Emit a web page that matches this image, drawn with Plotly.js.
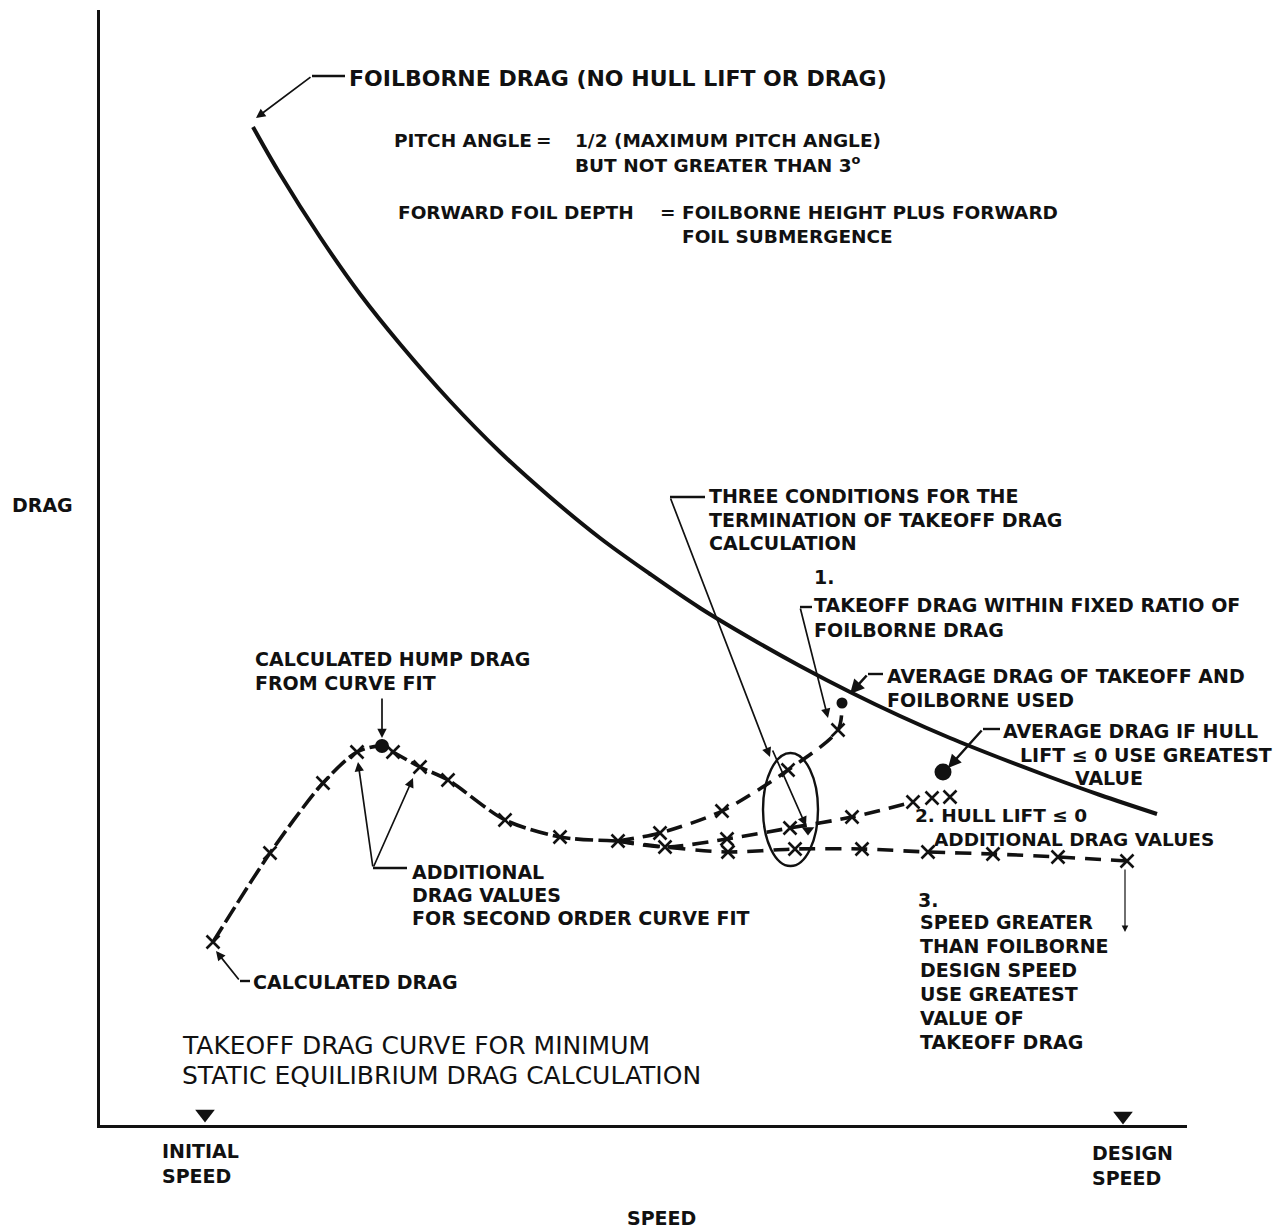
<!DOCTYPE html>
<html>
<head>
<meta charset="utf-8">
<script src="https://cdn.plot.ly/plotly-3.0.1.min.js"></script>
<style>body{margin:0;background:#fff}</style>
</head>
<body>
<div id="chart" style="width:1280px;height:1230px"></div>
<script>
// Foilborne drag (no hull lift or drag) against speed
const foilSpeed = [153, 180, 220, 260, 300, 350, 400, 450, 500, 550, 600, 650, 700, 750, 800, 850, 900, 950, 1000, 1057];
const foilDrag  = [998, 951, 888, 831, 781, 724, 673, 628, 587, 551, 517, 487, 459, 433, 409, 387, 367, 348, 330, 311];

// Calculated takeoff drag values up to the branch point
const takeoffSpeed = [113, 170, 223, 257, 293, 320, 348, 405, 460, 518];
const takeoffDrag  = [183, 272, 342, 373, 373, 358, 345, 305, 288, 284];

// Hump drag from the second-order curve fit
const humpSpeed = [282];
const humpDrag  = [379];

// Condition 1: takeoff drag rising toward foilborne drag
const riseSpeed = [560, 622, 688, 738];
const riseDrag  = [292, 314, 355, 395];
const avgFoilSpeed = [742];
const avgFoilDrag  = [422];

// Condition 2: hull lift <= 0
const hullSpeed = [627, 690, 752];
const hullDrag  = [286, 297, 308];
const hullExtraSpeed = [813, 832, 850];
const hullExtraDrag  = [323, 327, 328];
const avgHullSpeed = [843];
const avgHullDrag  = [353];
const stopSpeed = [708];
const stopDrag  = [295];

// Condition 3: speed beyond foilborne design speed
const designRunSpeed = [565, 628, 695, 762, 828, 893, 958, 1027];
const designRunDrag  = [278, 273, 276, 276, 273, 271, 268, 264];

// Reference speeds on the speed axis
const speedMarkNames = ['INITIAL SPEED', 'DESIGN SPEED'];
const speedMarkSpeed = [105, 1023];
const speedMarkDrag  = [11, 9];

const FONT = 'DejaVu Sans';
const INK = '#111';

// Build the smooth takeoff path: sampled values plus the fitted hump
const mainPts = takeoffSpeed.map((s, i) => [s, takeoffDrag[i]]).concat([[humpSpeed[0], humpDrag[0]]])
  .sort((a, b) => a[0] - b[0]);
const last = takeoffSpeed.length - 1;
const branchStart = [takeoffSpeed[last], takeoffDrag[last]];

const risePath   = [branchStart].concat(riseSpeed.map((s, i) => [s, riseDrag[i]]), [[avgFoilSpeed[0], avgFoilDrag[0]]]);
const hullPath   = [branchStart, [designRunSpeed[0], designRunDrag[0]]].concat(hullSpeed.map((s, i) => [s, hullDrag[i]]), [[hullExtraSpeed[0], hullExtraDrag[0]]]);
const designPath = [branchStart].concat(designRunSpeed.map((s, i) => [s, designRunDrag[i]]));

function pathTrace(pts, dash) {
  return {
    type: 'scatter', mode: 'lines',
    x: pts.map(p => p[0]), y: pts.map(p => p[1]),
    line: {color: INK, width: 3.6, dash: dash, shape: 'spline', smoothing: 0.8},
    hoverinfo: 'skip', showlegend: false
  };
}
function crossTrace(xs, ys) {
  return {
    type: 'scatter', mode: 'markers', x: xs, y: ys,
    marker: {symbol: 'x-thin', size: 13, color: INK, line: {color: INK, width: 2.6}},
    hoverinfo: 'skip', showlegend: false, cliponaxis: false
  };
}

const traces = [
  {
    type: 'scatter', mode: 'lines', x: foilSpeed, y: foilDrag,
    line: {color: INK, width: 4, shape: 'spline', smoothing: 1},
    hoverinfo: 'skip', showlegend: false
  },
  pathTrace(mainPts, '18px,5px'),
  pathTrace(risePath, '16px,9px'),
  pathTrace(hullPath, '16px,9px'),
  pathTrace(designPath, '16px,10px'),
  crossTrace(takeoffSpeed, takeoffDrag),
  crossTrace(riseSpeed, riseDrag),
  crossTrace(hullSpeed, hullDrag),
  crossTrace(hullExtraSpeed, hullExtraDrag),
  crossTrace(designRunSpeed, designRunDrag),
  {
    type: 'scatter', mode: 'markers', x: humpSpeed, y: humpDrag,
    marker: {symbol: 'circle', size: 14, color: INK}, hoverinfo: 'skip', showlegend: false
  },
  {
    type: 'scatter', mode: 'markers', x: avgFoilSpeed, y: avgFoilDrag,
    marker: {symbol: 'circle', size: 11, color: INK}, hoverinfo: 'skip', showlegend: false
  },
  {
    type: 'scatter', mode: 'markers', x: avgHullSpeed, y: avgHullDrag,
    marker: {symbol: 'circle', size: 17, color: INK}, hoverinfo: 'skip', showlegend: false
  },
  {
    type: 'scatter', mode: 'markers', x: stopSpeed, y: stopDrag,
    marker: {symbol: 'triangle-down', size: 11, color: INK}, hoverinfo: 'skip', showlegend: false
  },
  {
    type: 'scatter', mode: 'markers', x: speedMarkSpeed, y: speedMarkDrag,
    marker: {symbol: 'triangle-down', size: 17, color: INK}, hoverinfo: 'skip', showlegend: false,
    cliponaxis: false
  }
];

// Labels are placed relative to the plotting area
const L = 100, T = 10, W = 1087, H = 1115;
function label(text, px, py, opts) {
  return Object.assign({
    xref: 'paper', yref: 'paper', x: (px - L) / W, y: (T + H - py) / H,
    text: text, showarrow: false, xanchor: 'left', yanchor: 'middle', align: 'left',
    font: {family: FONT, size: 19, color: INK, weight: 'bold'}
  }, opts || {});
}
const f = (size, weight) => ({font: {family: FONT, size: size, color: INK, weight: weight || 'bold'}});
const small = f(18.5);
const light = f(25, 'normal');

const texts = [
  label('FOILBORNE DRAG (NO HULL LIFT OR DRAG)', 347, 78, f(22)),
  label('PITCH ANGLE', 392, 140, small),
  label('=', 534, 140, small),
  label('1/2 (MAXIMUM PITCH ANGLE)', 573, 140, small),
  label('BUT NOT GREATER THAN 3<sup>o</sup>', 573, 164, small),
  label('FORWARD FOIL DEPTH', 396, 212, small),
  label('=', 658, 212, small),
  label('FOILBORNE HEIGHT PLUS FORWARD', 680, 212, small),
  label('FOIL SUBMERGENCE', 680, 236, small),
  label('DRAG', 10, 505),
  label('THREE CONDITIONS FOR THE', 707, 496),
  label('TERMINATION OF TAKEOFF DRAG', 707, 520),
  label('CALCULATION', 707, 543),
  label('1.', 812, 577),
  label('TAKEOFF DRAG WITHIN FIXED RATIO OF', 812, 605),
  label('FOILBORNE DRAG', 812, 630),
  label('AVERAGE DRAG OF TAKEOFF AND', 885, 676),
  label('FOILBORNE USED', 885, 700),
  label('AVERAGE DRAG IF HULL', 1001, 731),
  label('LIFT ≤ 0 USE GREATEST', 1018, 755),
  label('VALUE', 1073, 778),
  label('CALCULATED HUMP DRAG', 253, 659),
  label('FROM CURVE FIT', 253, 683),
  label('2. HULL LIFT ≤ 0', 913, 815, f(18.5)),
  label('ADDITIONAL DRAG VALUES', 932, 839, f(18.5)),
  label('ADDITIONAL', 410, 872),
  label('DRAG VALUES', 410, 895),
  label('FOR SECOND ORDER CURVE FIT', 410, 918),
  label('3.', 916, 900),
  label('SPEED GREATER', 918, 922),
  label('THAN FOILBORNE', 918, 946),
  label('DESIGN SPEED', 918, 970),
  label('USE GREATEST', 918, 994),
  label('VALUE OF', 918, 1018),
  label('TAKEOFF DRAG', 918, 1042),
  label('CALCULATED DRAG', 251, 982),
  label('TAKEOFF DRAG CURVE FOR MINIMUM', 180, 1045, light),
  label('STATIC EQUILIBRIUM DRAG CALCULATION', 180, 1075, light),
  label(speedMarkNames[0].split(' ').join('<br>'), 160, 1163),
  label(speedMarkNames[1].split(' ').join('<br>'), 1090, 1165),
  label('SPEED', 661, 1218, {xanchor: 'center'})
];

// Leader arrows: tip (x, y) and tail (ax, ay) in speed/drag units
function arrow(x, y, ax, ay, opts) {
  return Object.assign({
    x: x, y: y, ax: ax, ay: ay, xref: 'x', yref: 'y', axref: 'x', ayref: 'y',
    text: '', showarrow: true, arrowhead: 2, arrowsize: 1.1, arrowwidth: 1.7, arrowcolor: INK,
    standoff: 0, startstandoff: 0
  }, opts || {});
}
const arrows = [
  arrow(156, 1007, 212, 1049),
  arrow(282, 387, 282, 428),
  arrow(258, 363, 273, 257),
  arrow(313, 347, 273, 257),
  arrow(116, 174, 140, 144),
  arrow(670, 368, 570, 628),
  arrow(706, 299, 672, 376),
  arrow(728, 407, 700, 518),
  arrow(750, 431, 768, 451, {arrowwidth: 2.6}),
  arrow(848, 357, 883, 396, {arrowwidth: 2.4}),
  arrow(1025, 193, 1025, 257, {arrowwidth: 1.2})
];

// Short horizontal hooks at the start of each leader
function hook(x0, x1, y) {
  return {type: 'line', xref: 'x', yref: 'y', x0: x0, x1: x1, y0: y, y1: y, line: {color: INK, width: 2.4}};
}
const shapes = [
  hook(245, 212, 1049),
  hook(307, 273, 257),
  hook(150, 140, 144),
  hook(605, 570, 628),
  hook(712, 700, 518),
  hook(783, 768, 451),
  hook(900, 883, 396),
  // Termination region enclosing the three conditions
  {type: 'circle', xref: 'x', yref: 'y', x0: 663, x1: 718, y0: 259, y1: 372, line: {color: INK, width: 2.4}}
];

const layout = {
  width: 1280, height: 1230,
  margin: {l: L, r: 1280 - L - W, t: T, b: 1230 - T - H},
  paper_bgcolor: '#fff', plot_bgcolor: '#fff',
  showlegend: false,
  xaxis: {range: [0, W], showline: true, linewidth: 3, linecolor: INK, showgrid: false, zeroline: false,
          showticklabels: false, ticks: '', fixedrange: true},
  yaxis: {range: [0, H], showline: true, linewidth: 3, linecolor: INK, showgrid: false, zeroline: false,
          showticklabels: false, ticks: '', fixedrange: true},
  annotations: texts.concat(arrows),
  shapes: shapes
};

Plotly.newPlot('chart', traces, layout, {staticPlot: true, displayModeBar: false});
</script>
</body>
</html>
